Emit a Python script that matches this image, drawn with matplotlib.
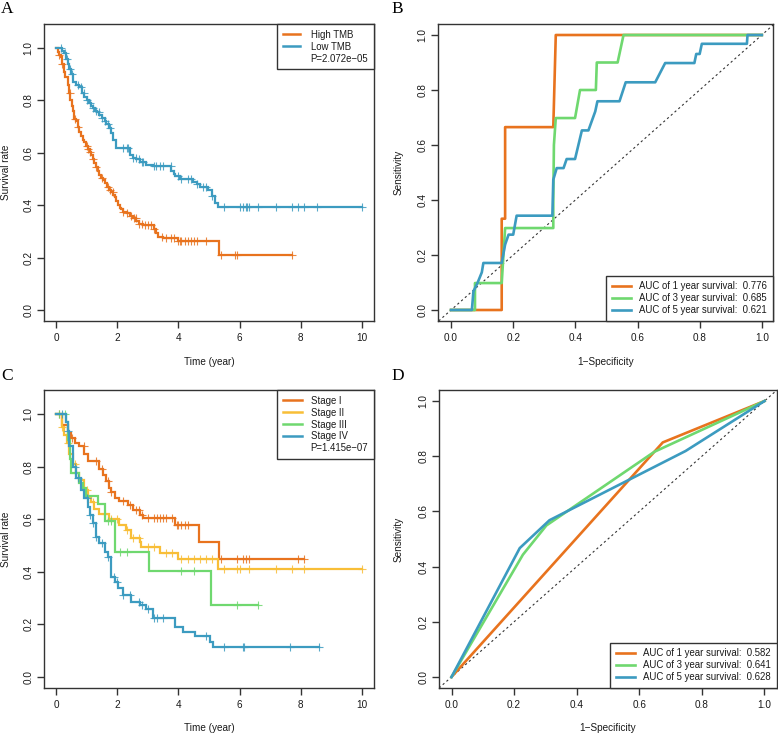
import numpy as np
import matplotlib
matplotlib.use("Agg")
import matplotlib.pyplot as plt
from matplotlib.lines import Line2D

plt.rcParams['font.family'] = ['Liberation Sans', 'DejaVu Sans']

ORANGE = '#E8731E'
BLUE = '#3C9BC0'
GREEN = '#6FD86F'
GOLD = '#F8BE37'

# ---------------- Panel A data (KM by TMB) ----------------
high_tmb_t = [0, 0.05, 0.1, 0.15, 0.2, 0.26, 0.3, 0.37, 0.42, 0.46,
              0.5, 0.54, 0.59, 0.65, 0.7, 0.76, 0.82, 0.88, 0.92, 0.98,
              1.03, 1.09, 1.15, 1.2, 1.25, 1.3, 1.36, 1.41, 1.47, 1.52,
              1.58, 1.65, 1.72, 1.80, 1.86, 1.92, 1.96, 2.02, 2.08, 2.13,
              2.2, 2.3, 2.4, 2.5, 2.62, 2.7, 2.84, 3.19, 3.25, 3.33,
              3.5, 4.0, 5.33]
high_tmb_s = [1.0, 0.985, 0.975, 0.965, 0.94, 0.91, 0.89, 0.86, 0.83, 0.80,
              0.78, 0.76, 0.73, 0.72, 0.70, 0.68, 0.665, 0.65, 0.64, 0.625,
              0.615, 0.605, 0.59, 0.575, 0.56, 0.545, 0.53, 0.515, 0.505, 0.495,
              0.485, 0.47, 0.46, 0.45, 0.44, 0.43, 0.415, 0.40, 0.39, 0.385,
              0.375, 0.37, 0.36, 0.35, 0.34, 0.33, 0.325, 0.31, 0.295, 0.28,
              0.275, 0.265, 0.21]
high_tmb_end = 7.7
high_tmb_cens = [0.1, 0.2, 0.45, 0.6, 0.7, 1.0, 1.05, 1.1, 1.2, 1.3, 1.5, 1.7,
                 1.75, 1.85, 2.2, 2.3, 2.45, 2.55, 2.6, 2.7, 2.8, 2.9, 3.0, 3.1,
                 3.2, 3.45, 3.6, 3.75, 3.85, 4.0, 4.05, 4.1, 4.2, 4.3, 4.4, 4.5,
                 4.6, 4.9, 5.4, 5.85, 5.9, 7.7]

low_tmb_t = [0, 0.2, 0.27, 0.33, 0.37, 0.43, 0.48, 0.54, 0.65, 0.76,
             0.85, 0.92, 1.0, 1.08, 1.14, 1.2, 1.28, 1.35, 1.41, 1.5,
             1.58, 1.63, 1.74, 1.8, 1.85, 1.96, 2.4, 2.5, 2.62, 2.75,
             2.95, 3.17, 3.77, 3.85, 3.88, 4.05, 4.48, 4.6, 4.7, 4.98,
             5.09, 5.2, 5.3]
low_tmb_s = [1.0, 0.99, 0.98, 0.96, 0.94, 0.92, 0.90, 0.87, 0.86, 0.85,
             0.83, 0.815, 0.80, 0.79, 0.78, 0.77, 0.76, 0.755, 0.745, 0.735,
             0.72, 0.71, 0.695, 0.675, 0.65, 0.62, 0.59, 0.58, 0.575, 0.565,
             0.555, 0.55, 0.53, 0.52, 0.51, 0.50, 0.49, 0.48, 0.47, 0.46,
             0.435, 0.41, 0.395]
low_tmb_end = 10.0
low_tmb_cens = [0.15, 0.3, 0.35, 0.45, 0.5, 0.7, 0.8, 0.9, 1.0, 1.1, 1.2, 1.3,
                1.4, 1.5, 1.6, 1.7, 1.75, 2.2, 2.3, 2.35, 2.5, 2.6, 2.7, 2.8,
                2.85, 3.2, 3.25, 3.4, 3.5, 3.75, 4.0, 4.1, 4.3, 4.4, 4.6, 4.8,
                4.9, 5.1, 5.5, 6.0, 6.1, 6.2, 6.25, 6.3, 6.6, 7.2, 7.7, 7.9,
                8.1, 8.55, 10.0]
pval_a = "P=2.072e\u221205"

# ---------------- Panel C data (KM by stage) ----------------
stage1_t = [0, 0.2, 0.37, 0.48, 0.6, 0.76, 0.92, 1.03, 1.41, 1.52, 1.63,
            1.72, 1.8, 1.91, 2.07, 2.35, 2.51, 2.73, 2.84, 3.88, 4.67, 5.33]
stage1_s = [1.0, 0.96, 0.93, 0.91, 0.89, 0.88, 0.85, 0.82, 0.79, 0.77, 0.745,
            0.72, 0.705, 0.68, 0.67, 0.655, 0.635, 0.615, 0.605, 0.58, 0.515, 0.45]
stage1_end = 8.1
stage1_cens = [0.1, 0.5, 0.9, 1.3, 1.5, 1.7, 1.8, 2.2, 2.4, 2.6, 2.7, 2.8, 3.0,
               3.2, 3.3, 3.4, 3.5, 3.6, 3.8, 3.95, 4.0, 4.1, 4.2, 4.3, 5.4, 5.9,
               6.1, 6.2, 6.3, 7.9, 8.1]

stage2_t = [0, 0.2, 0.26, 0.35, 0.43, 0.55, 0.65, 0.76, 0.92, 1.03, 1.14,
            1.25, 1.41, 1.74, 2.07, 2.29, 2.46, 2.73, 2.78, 3.39, 4.0, 5.28]
stage2_s = [1.0, 0.95, 0.92, 0.89, 0.85, 0.81, 0.775, 0.75, 0.71, 0.685, 0.665,
            0.64, 0.62, 0.60, 0.58, 0.56, 0.53, 0.515, 0.495, 0.47, 0.45, 0.41]
stage2_end = 10.0
stage2_cens = [0.2, 0.4, 0.6, 1.0, 1.2, 1.6, 1.8, 2.0, 2.3, 2.5, 2.7, 3.0, 3.2,
               3.6, 3.8, 4.1, 4.3, 4.5, 4.7, 4.9, 5.1, 5.5, 5.9, 6.0, 6.3, 7.2,
               7.7, 8.1, 10.0]

stage3_t = [0, 0.32, 0.37, 0.45, 0.48, 0.76, 0.87, 0.98, 1.36, 1.61, 1.91, 3.04, 5.08]
stage3_s = [1.0, 0.97, 0.90, 0.83, 0.775, 0.737, 0.72, 0.69, 0.66, 0.595, 0.475, 0.405, 0.273]
stage3_end = 6.6
stage3_cens = [0.1, 0.3, 0.6, 1.7, 1.8, 2.1, 2.3, 4.1, 4.5, 5.9, 6.6]

stage4_t = [0, 0.32, 0.37, 0.43, 0.54, 0.65, 0.81, 0.92, 1.03, 1.09, 1.2, 1.3,
            1.41, 1.58, 1.69, 1.8, 1.91, 2.02, 2.18, 2.46, 2.73, 2.95, 3.17,
            3.88, 4.15, 4.54, 5.03, 5.14]
stage4_s = [1.0, 0.97, 0.935, 0.88, 0.80, 0.756, 0.71, 0.68, 0.648, 0.616, 0.585,
            0.534, 0.508, 0.476, 0.457, 0.381, 0.362, 0.337, 0.311, 0.286, 0.273,
            0.26, 0.226, 0.19, 0.17, 0.155, 0.133, 0.114]
stage4_end = 8.6
stage4_cens = [0.2, 0.4, 0.6, 0.7, 1.0, 1.1, 1.2, 1.3, 1.5, 1.7, 1.9, 2.0, 2.2,
               2.4, 2.7, 2.8, 3.0, 3.2, 3.3, 3.5, 4.9, 5.5, 6.1, 6.15, 7.65, 8.6]
pval_c = "P=1.415e\u221207"

# ---------------- Panel B data (ROC, TMB) ----------------
rocB_1_fpr = [0, 0.163, 0.163, 0.174, 0.174, 0.329, 0.337, 1.0]
rocB_1_tpr = [0, 0, 0.332, 0.332, 0.665, 0.665, 1.0, 1.0]
rocB_3_fpr = [0, 0.077, 0.077, 0.163, 0.174, 0.329, 0.329, 0.331, 0.337, 0.399,
              0.415, 0.466, 0.469, 0.536, 0.555, 1.0]
rocB_3_tpr = [0, 0, 0.098, 0.098, 0.298, 0.298, 0.40, 0.6, 0.698, 0.698,
              0.8, 0.8, 0.9, 0.9, 1.0, 1.0]
rocB_5_fpr = [0, 0.067, 0.072, 0.085, 0.099, 0.104, 0.163, 0.174, 0.185, 0.2,
              0.211, 0.326, 0.329, 0.34, 0.362, 0.372, 0.399, 0.421, 0.442, 0.464,
              0.471, 0.542, 0.562, 0.657, 0.689, 0.783, 0.789, 0.8, 0.807, 0.952,
              0.954, 1.0]
rocB_5_tpr = [0, 0, 0.068, 0.098, 0.137, 0.171, 0.171, 0.238, 0.274, 0.274,
              0.343, 0.343, 0.474, 0.516, 0.516, 0.549, 0.549, 0.653, 0.653, 0.722,
              0.759, 0.759, 0.828, 0.828, 0.898, 0.898, 0.931, 0.931, 0.968, 0.968,
              1.0, 1.0]
aucB = [0.776, 0.685, 0.621]

# ---------------- Panel D data (ROC, stage) ----------------
rocD_1_fpr = [0, 0.675, 1.0]
rocD_1_tpr = [0, 0.85, 1.0]
rocD_3_fpr = [0, 0.228, 0.303, 0.648, 1.0]
rocD_3_tpr = [0, 0.443, 0.549, 0.816, 1.0]
rocD_5_fpr = [0, 0.218, 0.313, 0.748, 1.0]
rocD_5_tpr = [0, 0.467, 0.568, 0.819, 1.0]
aucD = [0.582, 0.641, 0.628]

years = [1, 3, 5]
km_ticks = [0, 2, 4, 6, 8, 10]
prob_ticks = [0.0, 0.2, 0.4, 0.6, 0.8, 1.0]

W, H = 778, 734
fig = plt.figure(figsize=(W / 100, H / 100), dpi=100)

FS = 7.2      # tick / axis label size
LFS = 6.9     # legend size
SPINE = '#333333'
TXT = '#1a1a1a'


def px_axes(l, r, t, b):
    ax = fig.add_axes([l / W, (H - b) / H, (r - l) / W, (b - t) / H])
    ax._px = (l, r, t, b)
    return ax


def style(ax, xticks, yticks, xfmt, yfmt):
    for s in ax.spines.values():
        s.set_color(SPINE)
        s.set_linewidth(1.0)
    ax.set_xticks(xticks)
    ax.set_yticks(yticks)
    ax.set_xticklabels([xfmt(v) for v in xticks])
    ax.set_yticklabels([yfmt(v) for v in yticks], rotation=90, va='center')
    ax.tick_params(direction='out', length=5, width=1.0, color=SPINE,
                   labelsize=FS, labelcolor=TXT)
    ax.tick_params(axis='x', pad=3.5)
    ax.tick_params(axis='y', pad=2.5)


def labels(ax, xl, yl, xlab_px, ylab_px):
    l, r, t, b = ax._px
    ax.set_xlabel(xl, fontsize=FS, color=TXT, va='center')
    ax.set_ylabel(yl, fontsize=FS, color=TXT, va='center')
    ax.xaxis.set_label_coords(0.5, -(xlab_px - b) / (b - t))
    ax.yaxis.set_label_coords((ylab_px - l) / (r - l), 0.5)


def km(ax, t, s, end, cens, color):
    tt = list(t) + [end]
    ss = list(s) + [s[-1]]
    ax.step(tt, ss, where='post', color=color, lw=1.6, solid_joinstyle='miter')
    tarr = np.array(t)
    sarr = np.array(s)
    idx = np.searchsorted(tarr, np.array(cens), side='right') - 1
    ax.plot(cens, sarr[idx], ls='none', marker='+', ms=6, mew=0.8, color=color,
            alpha=0.85)


def legend(ax, handles, labs, **kw):
    lg = ax.legend(handles, labs, fontsize=LFS, frameon=True, fancybox=False,
                   edgecolor=SPINE, framealpha=1, borderaxespad=0,
                   labelspacing=0.2, borderpad=0.6, **kw)
    lg.get_frame().set_linewidth(1.0)
    for t in lg.get_texts():
        t.set_color(TXT)
    return lg


# ---- A ----
axA = px_axes(44, 374, 24, 321)
km(axA, high_tmb_t, high_tmb_s, high_tmb_end, high_tmb_cens, ORANGE)
km(axA, low_tmb_t, low_tmb_s, low_tmb_end, low_tmb_cens, BLUE)
axA.set_xlim(-0.4, 10.4)
axA.set_ylim(-0.042, 1.092)
style(axA, km_ticks, prob_ticks, lambda v: f"{v:d}", lambda v: f"{v:.1f}")
labels(axA, "Time (year)", "Survival rate", 362, 6)
hA = [Line2D([], [], color=ORANGE, lw=1.8), Line2D([], [], color=BLUE, lw=1.8),
      Line2D([], [], color='none')]
legend(axA, hA, ["High TMB", "Low TMB", pval_a], loc='upper right',
       handlelength=1.8, handletextpad=1.1)

# ---- B ----
axB = px_axes(438, 773, 24, 321)
axB.plot([-0.1, 1.1], [-0.1, 1.1], ls=(0, (2, 2.5)), color='#333333', lw=0.8)
axB.plot(rocB_1_fpr, rocB_1_tpr, color=ORANGE, lw=1.9)
axB.plot(rocB_3_fpr, rocB_3_tpr, color=GREEN, lw=1.9)
axB.plot(rocB_5_fpr, rocB_5_tpr, color=BLUE, lw=1.9)
axB.set_xlim(-0.042, 1.036)
axB.set_ylim(-0.04, 1.04)
style(axB, prob_ticks, prob_ticks, lambda v: f"{v:.1f}", lambda v: f"{v:.1f}")
labels(axB, "1\u2212Specificity", "Sensitivity", 362, 399)
hB = [Line2D([], [], color=c, lw=1.9) for c in (ORANGE, GREEN, BLUE)]
legend(axB, hB, [f"AUC of {y} year survival:  {a:.3f}" for y, a in zip(years, aucB)],
       loc='lower right', handlelength=2.0, handletextpad=0.9)

# ---- C ----
axC = px_axes(44, 374, 390, 688)
km(axC, stage1_t, stage1_s, stage1_end, stage1_cens, ORANGE)
km(axC, stage2_t, stage2_s, stage2_end, stage2_cens, GOLD)
km(axC, stage3_t, stage3_s, stage3_end, stage3_cens, GREEN)
km(axC, stage4_t, stage4_s, stage4_end, stage4_cens, BLUE)
axC.set_xlim(-0.4, 10.4)
axC.set_ylim(-0.042, 1.092)
style(axC, km_ticks, prob_ticks, lambda v: f"{v:d}", lambda v: f"{v:.1f}")
labels(axC, "Time (year)", "Survival rate", 728, 6)
hC = [Line2D([], [], color=c, lw=1.8) for c in (ORANGE, GOLD, GREEN, BLUE)] + \
     [Line2D([], [], color='none')]
legend(axC, hC, ["Stage I", "Stage II", "Stage III", "Stage IV", pval_c],
       loc='upper right', handlelength=2.0, handletextpad=0.9)

# ---- D ----
axD = px_axes(439, 777, 390, 688)
axD.plot([-0.1, 1.1], [-0.1, 1.1], ls=(0, (2, 2.5)), color='#333333', lw=0.8)
axD.plot(rocD_1_fpr, rocD_1_tpr, color=ORANGE, lw=1.9)
axD.plot(rocD_3_fpr, rocD_3_tpr, color=GREEN, lw=1.9)
axD.plot(rocD_5_fpr, rocD_5_tpr, color=BLUE, lw=1.9)
axD.set_xlim(-0.04, 1.04)
axD.set_ylim(-0.04, 1.04)
style(axD, prob_ticks, prob_ticks, lambda v: f"{v:.1f}", lambda v: f"{v:.1f}")
labels(axD, "1\u2212Specificity", "Sensitivity", 728, 399)
hD = [Line2D([], [], color=c, lw=1.9) for c in (ORANGE, GREEN, BLUE)]
legend(axD, hD, [f"AUC of {y} year survival:  {a:.3f}" for y, a in zip(years, aucD)],
       loc='lower right', handlelength=2.0, handletextpad=0.9)

# panel letters
for letter, (x, y) in zip("ABCD", [(1, 1), (391, 1), (1, 368), (391, 368)]):
    fig.text(x / W, 1 - y / H, letter, ha='left', va='top',
             family=['Liberation Serif', 'DejaVu Serif'], fontsize=12.5)

fig.savefig("out.png", dpi=100)
